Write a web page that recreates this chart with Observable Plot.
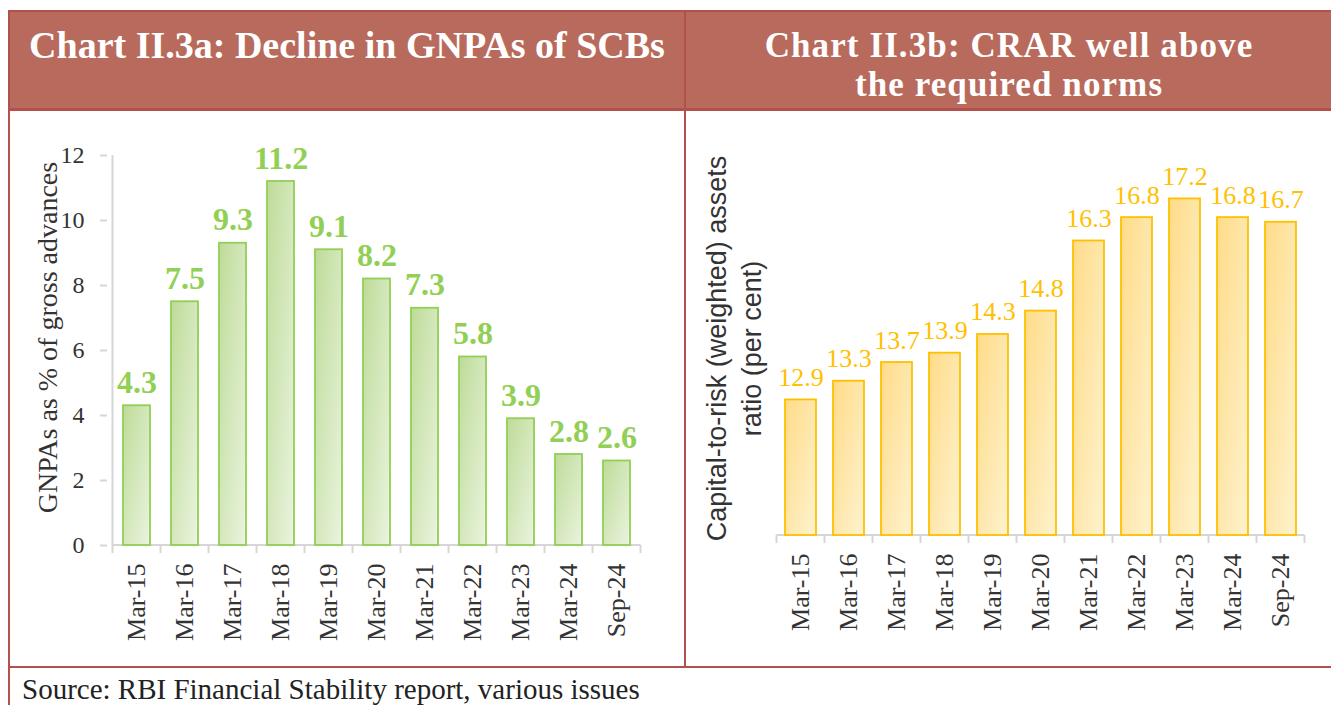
<!DOCTYPE html>
<html><head><meta charset="utf-8">
<script src="https://cdn.jsdelivr.net/npm/d3@7"></script>
<script src="https://cdn.jsdelivr.net/npm/@observablehq/plot@0.6"></script>
<style>
body{margin:0;background:#fff;}
#root{position:relative;width:1331px;height:705px;overflow:hidden;background:#fff;font-family:"Liberation Serif",serif;}
.hdr{position:absolute;left:9px;top:10px;width:1340px;height:100px;background:#b86b5c;}
.ln{position:absolute;background:#b3504b;}
.title{position:absolute;color:#fff;font-weight:bold;font-size:38px;text-align:center;white-space:nowrap;}
.src{position:absolute;left:22px;top:675px;font-size:29px;line-height:29px;color:#222;white-space:nowrap;}
.panel{position:absolute;top:112px;}
</style></head>
<body><div id="root">
<div class="hdr"></div>
<div class="title" id="t1" style="left:11px;width:672px;top:27px;line-height:36px;"></div>
<div class="title" id="t2a" style="left:687px;width:644px;top:26px;line-height:39px;font-size:35px;letter-spacing:1.1px;"></div>
<div class="title" id="t2b" style="left:687px;width:644px;top:65px;line-height:39px;font-size:35px;letter-spacing:1.1px;"></div>
<div class="panel" id="p1" style="left:0px;"></div>
<div class="panel" id="p2" style="left:687px;"></div>
<div class="ln" style="left:8px;top:10px;width:1330px;height:2px;"></div>
<div class="ln" style="left:8px;top:108px;width:1330px;height:3px;"></div>
<div class="ln" style="left:8px;top:10px;width:2px;height:700px;"></div>
<div class="ln" style="left:684px;top:10px;width:2px;height:658px;"></div>
<div class="ln" style="left:8px;top:666px;width:1330px;height:2px;"></div>
<div class="src" id="src"></div>
</div>
<script>
// ---- data ----
const periods = ["Mar-15","Mar-16","Mar-17","Mar-18","Mar-19","Mar-20","Mar-21","Mar-22","Mar-23","Mar-24","Sep-24"];
const gnpa = [4.3, 7.5, 9.3, 11.2, 9.1, 8.2, 7.3, 5.8, 3.9, 2.8, 2.6];
const crar = [12.9, 13.3, 13.7, 13.9, 14.3, 14.8, 16.3, 16.8, 17.2, 16.8, 16.7];
const gnpaTicks = [0, 2, 4, 6, 8, 10, 12];
const titleA = "Chart II.3a: Decline in GNPAs of SCBs";
const titleB = ["Chart II.3b: CRAR well above", "the required norms"];
const yLabelA = "GNPAs as % of gross advances";
const yLabelB = "Capital-to-risk (weighted) assets\nratio (per cent)";
const source = "Source: RBI Financial Stability report, various issues";

document.getElementById("t1").textContent = titleA;
document.getElementById("t2a").textContent = titleB[0];
document.getElementById("t2b").textContent = titleB[1];
document.getElementById("src").textContent = source;

const rowsA = periods.map((p, i) => ({p, v: gnpa[i]}));
const rowsB = periods.map((p, i) => ({p, v: crar[i]}));
const NS = "http://www.w3.org/2000/svg";

function el(name, attrs) {
  const e = document.createElementNS(NS, name);
  for (const k in attrs) e.setAttribute(k, attrs[k]);
  return e;
}
function bandw(s) { return typeof s.bandwidth === "function" ? s.bandwidth() : (s.bandwidth || 0); }
function stepw(s) { return typeof s.step === "function" ? s.step() : (s.step || 0); }

// gradient defs + axis decoration drawn through the scales
function decor({id, c0, c1, base, top, leftLine}) {
  return (index, scales, values, dims) => {
    const g = el("g", {});
    const defs = el("defs", {});
    const lg = el("linearGradient", {id, x1: "0", y1: "0", x2: "1", y2: "1"});
    lg.appendChild(el("stop", {offset: "0", "stop-color": c0}));
    lg.appendChild(el("stop", {offset: "1", "stop-color": c1}));
    defs.appendChild(lg);
    g.appendChild(defs);
    const x = scales.x, y = scales.y;
    const bw = bandw(x), st = stepw(x) || bw;
    const gap = st - bw;
    const y0 = y(base);
    const xs = periods.map(p => x(p) - gap / 2);
    xs.push(x(periods[periods.length - 1]) + bw + gap / 2);
    const axisColor = "#d6d6d6";
    g.appendChild(el("line", {x1: xs[0], x2: xs[xs.length - 1], y1: y0, y2: y0, stroke: axisColor, "stroke-width": 2}));
    for (const xv of xs) g.appendChild(el("line", {x1: xv, x2: xv, y1: y0, y2: y0 + 8, stroke: axisColor, "stroke-width": 2}));
    if (leftLine) g.appendChild(el("line", {x1: xs[0], x2: xs[0], y1: y0, y2: y(top), stroke: axisColor, "stroke-width": 2}));
    return g;
  };
}

const baseStyle = {fontFamily: "'Liberation Serif', serif", fontSize: "22px", color: "#333", background: "transparent", overflow: "visible"};

const chartA = Plot.plot({
  width: 684, height: 553,
  marginLeft: 107, marginRight: 39, marginTop: 43, marginBottom: 120,
  style: baseStyle,
  x: {domain: periods, paddingInner: 0.44, paddingOuter: 0.22, label: null},
  y: {domain: [0, 12], label: null},
  marks: [
    decor({id: "gGreen", c0: "#bedb98", c1: "#eaf4df", base: 0, top: 12, leftLine: true}),
    Plot.barY(rowsA, {x: "p", y: "v", fill: "url(#gGreen)", stroke: "#92cf55", strokeWidth: 1.8}),
    Plot.text(rowsA, {x: "p", y: "v", text: d => d.v.toFixed(1), dy: -13, lineAnchor: "bottom", fill: "#92cf55", fontWeight: "bold", fontSize: 32}),
    Plot.axisY({ticks: gnpaTicks, tickSize: 7, tickPadding: 16, stroke: "#d6d6d6", strokeWidth: 2, fill: "#333", fontSize: 24, label: null}),
    Plot.axisX({tickSize: 0, tickPadding: 18, tickRotate: -90, fill: "#333", fontSize: 26, label: null}),
    Plot.text([yLabelA], {text: d => d, frameAnchor: "left", textAnchor: "middle", rotate: -90, dx: -59, dy: -13, fontSize: 28, fill: "#333"})
  ]
});
document.getElementById("p1").appendChild(chartA);

const chartB = Plot.plot({
  width: 644, height: 553,
  marginLeft: 86, marginRight: 23, marginTop: 49, marginBottom: 130,
  style: baseStyle,
  x: {domain: periods, paddingInner: 0.36, paddingOuter: 0.18, label: null},
  y: {domain: [10, 18], label: null, axis: null},
  marks: [
    decor({id: "gGold", c0: "#fedc88", c1: "#fff2cf", base: 10, top: 18, leftLine: false}),
    Plot.barY(rowsB, {x: "p", y1: 10, y2: "v", fill: "url(#gGold)", stroke: "#ffc000", strokeWidth: 1.8}),
    Plot.text(rowsB, {x: "p", y: "v", text: d => d.v.toFixed(1), dy: -14, lineAnchor: "bottom", fill: "#ffc000", fontSize: 26}),
    Plot.axisX({tickSize: 0, tickPadding: 18, tickRotate: -90, fill: "#333", fontSize: 26, label: null}),
    Plot.text([yLabelB], {text: d => d, frameAnchor: "left", textAnchor: "middle", rotate: -90, dx: -41, dy: 0, lineHeight: 1.3, fontSize: 27, fill: "#333", fontFamily: "'Liberation Sans', sans-serif"})
  ]
});
document.getElementById("p2").appendChild(chartB);
</script>
</body></html>
